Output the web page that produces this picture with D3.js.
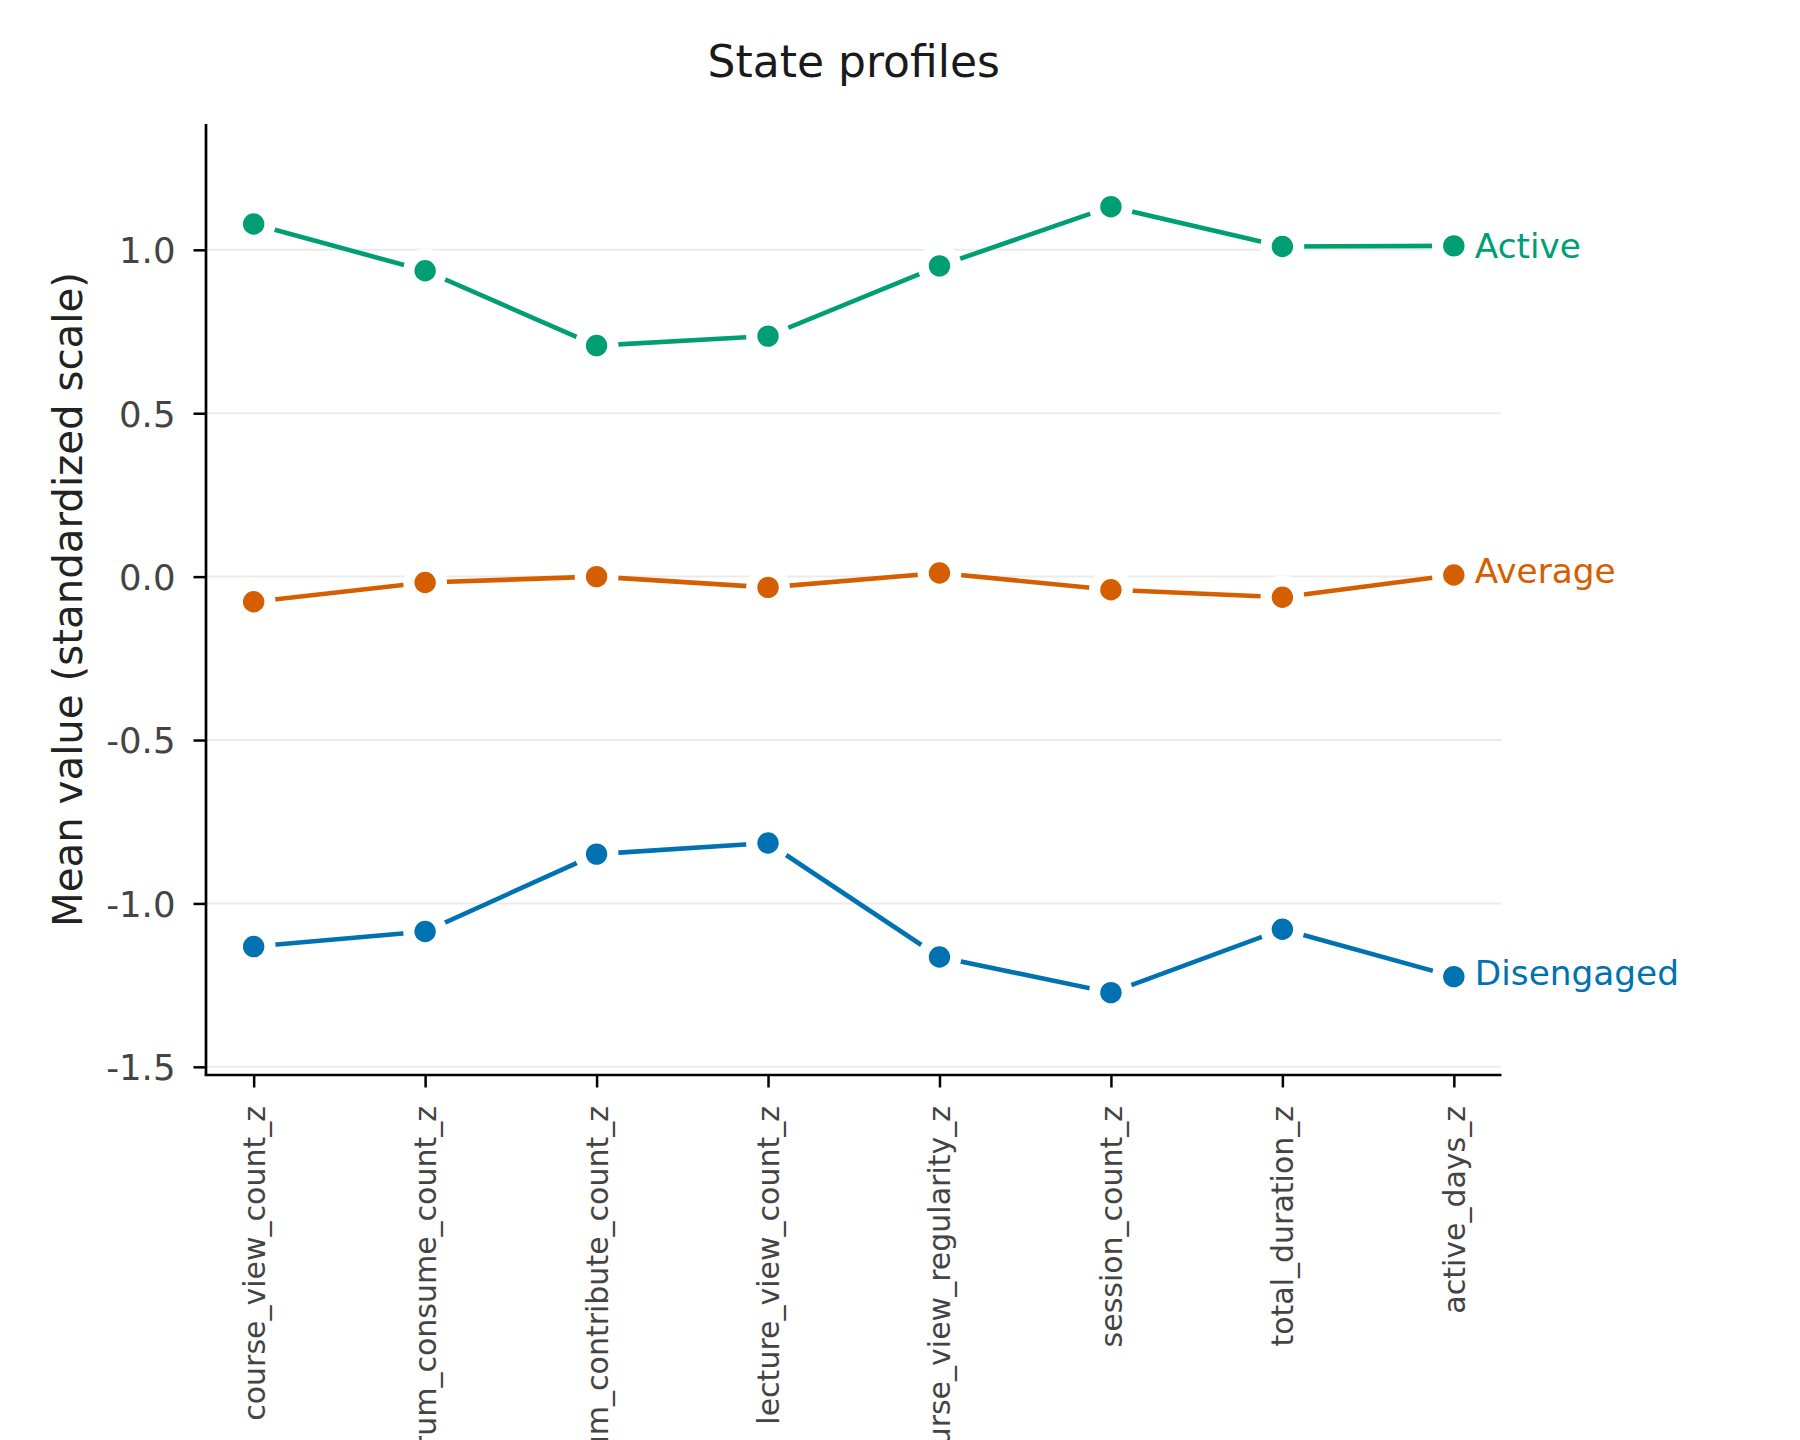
<!DOCTYPE html>
<html>
<head>
<meta charset="utf-8">
<script src="https://cdn.jsdelivr.net/npm/d3@7"></script>
<style>
  html, body { margin: 0; padding: 0; background: #fff; }
  svg { display: block; overflow: hidden; }
  text { font-family: "DejaVu Sans", sans-serif; }
</style>
</head>
<body>
<svg id="chart" width="1800" height="1440"></svg>
<script>
const categories = [
  "course_view_count_z", "forum_consume_count_z", "forum_contribute_count_z",
  "lecture_view_count_z", "course_view_regularity_z", "session_count_z",
  "total_duration_z", "active_days_z"
];
const activeValues = [1.079, 0.936, 0.707, 0.736, 0.951, 1.132, 1.010, 1.012];
const averageValues = [-0.077, -0.018, 0.000, -0.033, 0.011, -0.040, -0.063, 0.005];
const disengagedValues = [-1.132, -1.086, -0.849, -0.815, -1.164, -1.273, -1.079, -1.224];
const seriesNames = ["Active", "Average", "Disengaged"];
const seriesColors = ["#009E73", "#D55E00", "#0072B2"];
const yTicks = [-1.5, -1.0, -0.5, 0.0, 0.5, 1.0];

const series = [
  { name: seriesNames[0], color: seriesColors[0], values: activeValues },
  { name: seriesNames[1], color: seriesColors[1], values: averageValues },
  { name: seriesNames[2], color: seriesColors[2], values: disengagedValues }
];

const svg = d3.select("#chart");
const mLeft = 206, mRight = 1501.5, mTop = 124, mBottom = 1075;

const x = d3.scaleLinear().domain([-0.278, categories.length - 1 + 0.278]).range([mLeft, mRight]);
const y = d3.scaleLinear().domain([-1.525, 1.385]).range([mBottom, mTop]);

// grid
svg.append("g").selectAll("line").data(yTicks).join("line")
  .attr("x1", mLeft).attr("x2", mRight)
  .attr("y1", d => y(d)).attr("y2", d => y(d))
  .attr("stroke", "#ebebeb").attr("stroke-width", 2);

// y axis
const yAxis = d3.axisLeft(y).tickValues(yTicks).tickSize(12.5).tickPadding(18)
  .tickFormat(d => d3.format(".1f")(d).replace("−", "-"));
const gy = svg.append("g").attr("transform", `translate(${mLeft},0)`).call(yAxis);
gy.select(".domain").remove();
gy.selectAll(".tick line").attr("stroke", "#000").attr("stroke-width", 2.5);
gy.selectAll(".tick text").attr("fill", "#444").style("font-size", "35.5px")
  .style("font-family", "DejaVu Sans").attr("dy", "0.36em");
svg.append("line").attr("x1", mLeft).attr("x2", mLeft).attr("y1", mTop).attr("y2", mBottom)
  .attr("stroke", "#000").attr("stroke-width", 2.7);

// x axis
const xAxis = d3.axisBottom(x).tickValues(d3.range(categories.length)).tickSize(12.5)
  .tickFormat(i => categories[i]);
const gx = svg.append("g").attr("transform", `translate(0,${mBottom})`).call(xAxis);
gx.select(".domain").remove();
gx.selectAll(".tick line").attr("stroke", "#000").attr("stroke-width", 2.5);
gx.selectAll(".tick text").attr("fill", "#444").style("font-size", "30px")
  .style("font-family", "DejaVu Sans")
  .attr("text-anchor", "end").attr("y", 0).attr("x", 0).attr("dy", "0.35em")
  .attr("transform", "translate(0,31) rotate(-90)");
svg.append("line").attr("x1", mLeft - 1.35).attr("x2", mRight).attr("y1", mBottom).attr("y2", mBottom)
  .attr("stroke", "#000").attr("stroke-width", 2.7);

// lines and markers
const line = d3.line().x((d, i) => x(i)).y(d => y(d));
const gs = svg.append("g").selectAll("g").data(series).join("g");
gs.append("path").attr("d", d => line(d.values)).attr("fill", "none")
  .attr("stroke", d => d.color).attr("stroke-width", 4.6).attr("stroke-linecap", "round");
gs.each(function(s) {
  d3.select(this).selectAll("circle").data(s.values).join("circle")
    .attr("cx", (d, i) => x(i)).attr("cy", d => y(d)).attr("r", 16.3)
    .attr("fill", s.color).attr("stroke", "#fff").attr("stroke-width", 11.2);
});
gs.append("text")
  .attr("x", d => x(d.values.length - 1) + 21)
  .attr("y", d => y(d.values[d.values.length - 1]) + (/[gjpqy]/.test(d.name) ? 8.5 : 12.2))
  .attr("fill", d => d.color).style("font-size", "34.3px")
  .text(d => d.name);

// title
svg.append("text").attr("x", (mLeft + mRight) / 2).attr("y", 77).attr("text-anchor", "middle")
  .attr("fill", "#1a1a1a").style("font-size", "44px").text("State profiles");

// y label
svg.append("text").attr("transform", `translate(81.5,${(mTop + mBottom) / 2}) rotate(-90)`)
  .attr("text-anchor", "middle").attr("fill", "#222").style("font-size", "40.3px")
  .text("Mean value (standardized scale)");
</script>
</body>
</html>
